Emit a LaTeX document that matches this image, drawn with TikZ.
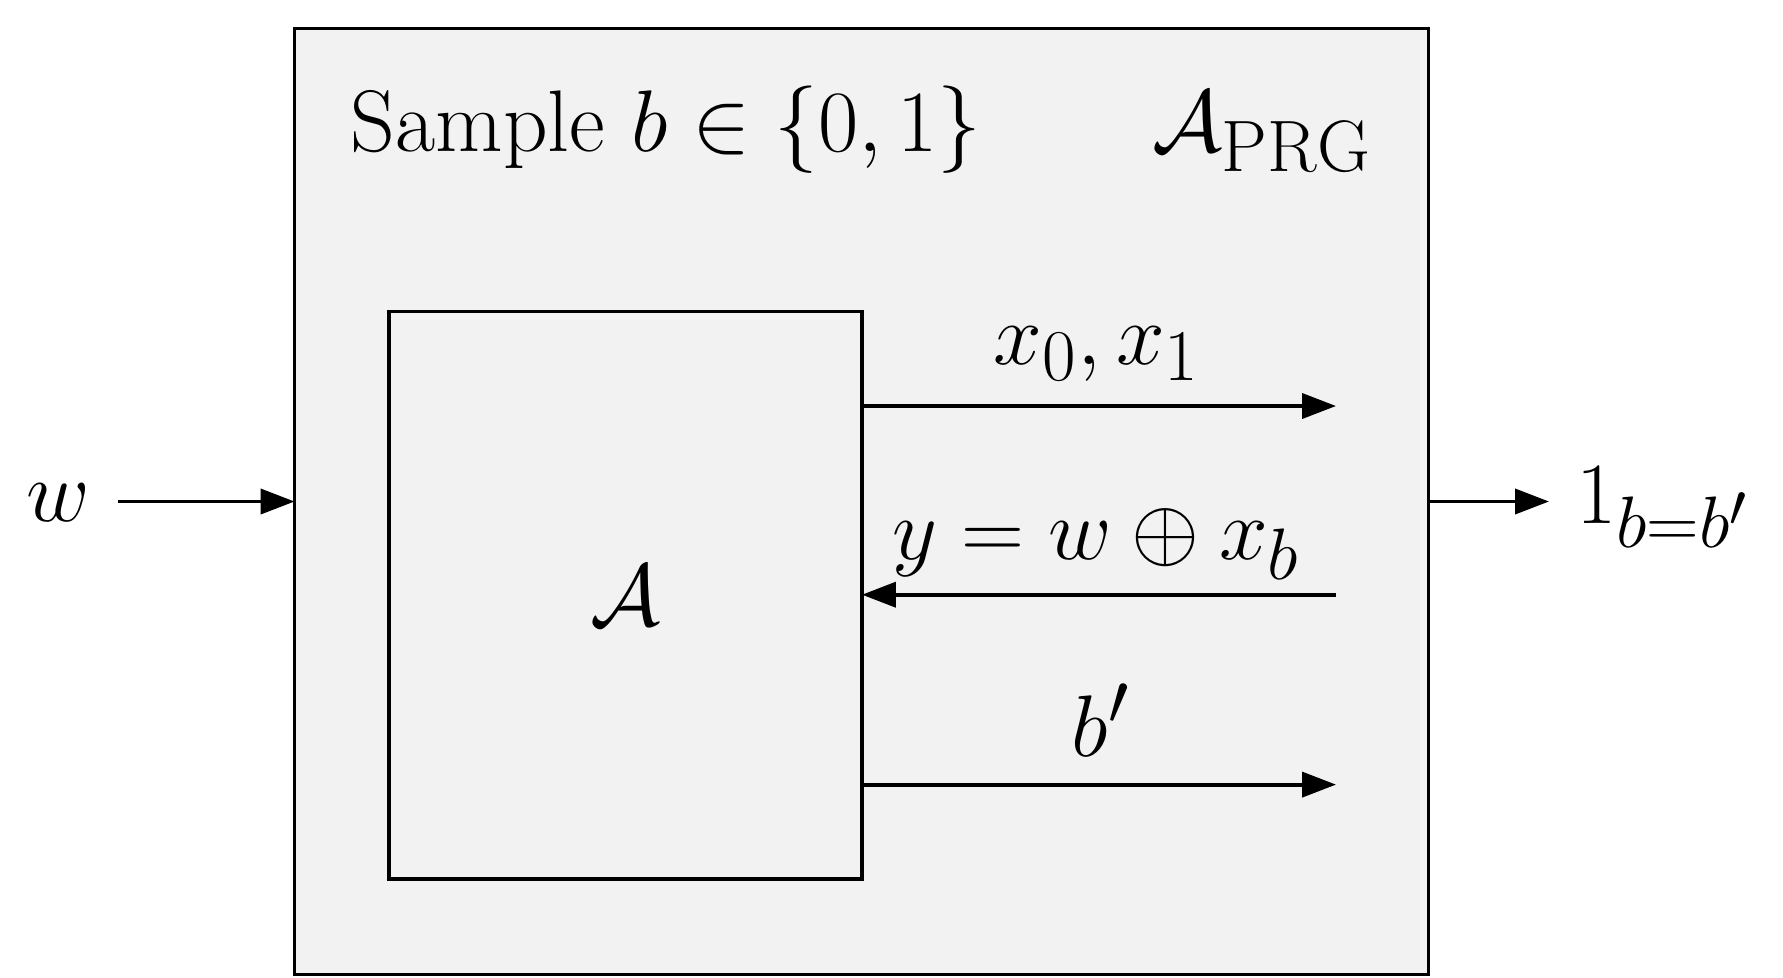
\RequirePackage{fix-cm}
\documentclass[tikz,border=0pt]{standalone}
\usepackage{fontspec}
\usetikzlibrary{arrows.meta}
\definecolor{boxgray}{HTML}{F2F2F2}
\begin{document}
\begin{tikzpicture}[x=0.1mm,y=-0.1mm,
  font=\Huge,
  box/.style={draw, line width=1pt, fill=boxgray, inner sep=0pt, outer sep=0pt},
  arr/.style={line width=1.1pt, -{Triangle[length=3.4mm,width=2.5mm]}},
  lbl/.style={anchor=base, inner sep=0pt}]
\useasboundingbox (0,0) rectangle (1783,977);
\node[box, minimum width=113.37mm, minimum height=94.61mm] (outer) at (861.4,501.5) {};
\node[box, minimum width=47.31mm, minimum height=56.74mm] (inner) at (625.4,595.3) {};
\node[lbl] (alab) at (625,625) {$\mathcal{A}$};
\node[lbl] (sample) at (666,151) {Sample $b \in \{0,1\}$};
\node[lbl] (aprg) at (1262,151) {$\mathcal{A}_{\mathrm{PRG}}$};
\node[lbl] (wlab) at (58,521) {$w$};
\node[lbl] (outlab) at (1663,523) {$1_{b=b'}$};
\node[lbl] (xlab) at (1097,364) {$x_0, x_1$};
\node[lbl] (ylab) at (1096,559) {$y = w \oplus x_b$};
\node[lbl] (blab) at (1101,756) {$b'$};
\coordinate (o1) at (1336,406);
\coordinate (o2) at (1336,594.7);
\coordinate (o3) at (1336,784.6);
\coordinate (win) at (118,501.5);
\coordinate (wout) at (1549,501.5);
\draw[arr] (inner.east |- o1) -- (o1);
\draw[arr] (o2) -- (inner.east |- o2);
\draw[arr] (inner.east |- o3) -- (o3);
\draw[arr] (win) -- (outer.west);
\draw[arr] (outer.east) -- (wout);
\end{tikzpicture}
\end{document}
